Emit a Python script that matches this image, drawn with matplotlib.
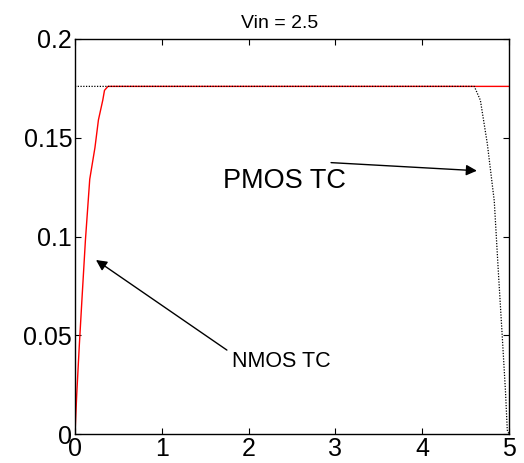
import matplotlib
matplotlib.use('Agg')
import matplotlib.pyplot as plt

plt.rcParams['font.family'] = ['Liberation Sans', 'DejaVu Sans']

# NMOS transfer curve (red, solid)
nmos_x = [0.0, 0.02, 0.05, 0.08, 0.12, 0.17, 0.23, 0.27, 0.32, 0.34, 0.38, 5.0]
nmos_y = [0.0, 0.02, 0.045, 0.068, 0.098, 0.129, 0.145, 0.159, 0.169, 0.174, 0.176, 0.176]

# PMOS transfer curve (black, dotted)
pmos_x = [0.0, 4.6, 4.67, 4.75, 4.83, 4.88, 4.92, 4.96, 4.98, 5.0]
pmos_y = [0.176, 0.176, 0.169, 0.147, 0.118, 0.080, 0.051, 0.021, 0.002, 0.0]

x_ticks = [0, 1, 2, 3, 4, 5]
y_ticks = [0, 0.05, 0.1, 0.15, 0.2]
y_tick_labels = ['0', '0.05', '0.1', '0.15', '0.2']

fig = plt.figure(figsize=(5.24, 4.63), dpi=100)
ax = fig.add_axes([0.1431, 0.0626, 0.8283, 0.8532])

ax.plot(nmos_x, nmos_y, color='red', linewidth=1.0)
ax.plot(pmos_x, pmos_y, color='black', linewidth=0.9, linestyle=(0, (1, 1.2)))

ax.set_xlim(0, 5)
ax.set_ylim(0, 0.2)
ax.set_xticks(x_ticks)
ax.set_xticklabels([str(t) for t in x_ticks])
ax.set_yticks(y_ticks)
ax.set_yticklabels(y_tick_labels)
ax.tick_params(direction='in', length=4, width=0.8, labelsize=18,
               top=True, right=True, pad=2)
for s in ax.spines.values():
   s.set_linewidth(1.0)
   s.set_color('black')

ax.text(0.472, 1.028, 'Vin = 2.5', transform=ax.transAxes,
        ha='center', va='baseline', fontsize=14)

arrow = dict(arrowstyle='-|>', mutation_scale=16, lw=1.0, color='black',
             shrinkA=0, shrinkB=0)
ax.annotate('', xy=(4.63, 0.1333), xytext=(2.95, 0.1374), arrowprops=arrow)
ax.text(1.705, 0.1246, 'PMOS TC', fontsize=19.5, va='baseline', ha='left')

ax.annotate('', xy=(0.242, 0.0881), xytext=(1.75, 0.0425), arrowprops=arrow)
ax.text(1.805, 0.0341, 'NMOS TC', fontsize=15.5, va='baseline', ha='left')

fig.savefig('out.png', dpi=100)
